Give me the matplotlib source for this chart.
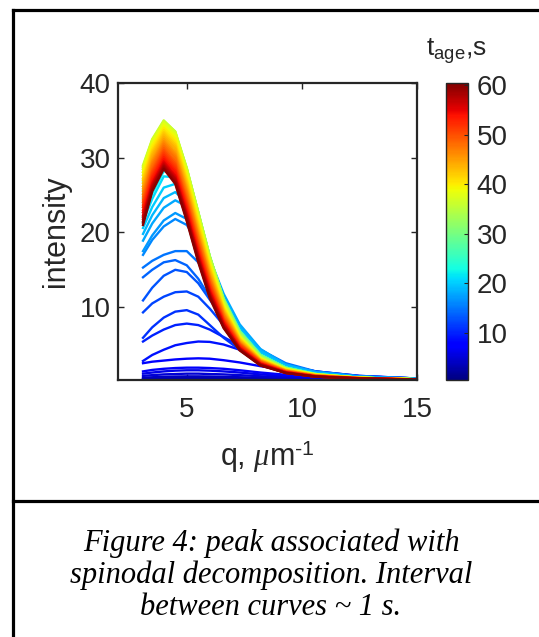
import matplotlib
matplotlib.use("Agg")
import matplotlib.pyplot as plt
from matplotlib.colors import Normalize
from matplotlib.cm import ScalarMappable
from matplotlib.lines import Line2D

# ---------------- data ----------------
q = [3.1, 3.5, 4.0, 4.5, 5.0, 5.5, 6.0, 6.6, 7.3, 8.2, 9.3, 10.6, 12.5, 15.0]
t_age = list(range(1, 61))
cbar_ticks = [10, 20, 30, 40, 50, 60]
y_ticks = [10, 20, 30, 40]
x_ticks = [5, 10, 15]

# t = 1 .. 21 s
early_curves = [
    [0.25, 0.26, 0.27, 0.28, 0.28, 0.28, 0.28, 0.27, 0.27, 0.26, 0.26, 0.25, 0.25, 0.25],
    [0.32, 0.34, 0.36, 0.38, 0.38, 0.38, 0.37, 0.36, 0.35, 0.33, 0.31, 0.29, 0.27, 0.26],
    [0.42, 0.46, 0.50, 0.52, 0.53, 0.53, 0.52, 0.50, 0.47, 0.42, 0.37, 0.33, 0.29, 0.27],
    [0.55, 0.62, 0.68, 0.72, 0.74, 0.74, 0.72, 0.68, 0.62, 0.54, 0.46, 0.39, 0.32, 0.28],
    [0.80, 0.90, 1.00, 1.05, 1.10, 1.10, 1.05, 1.00, 0.90, 0.75, 0.60, 0.48, 0.37, 0.30],
    [1.10, 1.25, 1.40, 1.50, 1.55, 1.55, 1.50, 1.40, 1.25, 1.00, 0.80, 0.60, 0.44, 0.32],
    [1.40, 1.60, 1.75, 1.85, 1.90, 1.90, 1.85, 1.75, 1.55, 1.25, 0.95, 0.70, 0.50, 0.35],
    [2.5, 2.7, 2.85, 3.0, 3.1, 3.15, 3.1, 2.9, 2.6, 2.1, 1.6, 1.1, 0.7, 0.4],
    [2.8, 3.6, 4.3, 4.9, 5.2, 5.4, 5.35, 5.0, 4.3, 3.2, 2.2, 1.4, 0.8, 0.45],
    [5.4, 6.2, 7.0, 7.6, 7.8, 7.6, 7.0, 6.0, 4.8, 3.4, 2.2, 1.4, 0.8, 0.45],
    [5.9, 7.3, 8.6, 9.4, 9.6, 9.0, 7.6, 5.9, 4.3, 2.9, 1.8, 1.1, 0.65, 0.4],
    [9.3, 10.5, 11.4, 12.0, 12.1, 11.4, 9.8, 7.6, 5.5, 3.6, 2.2, 1.3, 0.75, 0.45],
    [10.9, 12.6, 14.2, 15.0, 14.7, 13.2, 11.0, 8.4, 5.9, 3.8, 2.3, 1.35, 0.75, 0.45],
    [14.0, 15.0, 16.0, 16.3, 15.6, 13.8, 11.3, 8.5, 5.9, 3.7, 2.2, 1.3, 0.7, 0.4],
    [15.3, 16.2, 17.0, 17.5, 17.5, 16.0, 13.2, 9.9, 6.9, 4.3, 2.5, 1.4, 0.75, 0.45],
    [17.0, 19.0, 20.8, 21.8, 21.0, 18.6, 15.0, 11.0, 7.3, 4.3, 2.3, 1.3, 0.7, 0.4],
    [17.5, 19.6, 21.6, 22.6, 21.8, 19.2, 15.5, 11.2, 7.4, 4.3, 2.3, 1.3, 0.7, 0.4],
    [18.9, 21.2, 23.3, 24.3, 23.5, 20.6, 16.5, 11.8, 7.7, 4.4, 2.3, 1.3, 0.7, 0.4],
    [19.8, 22.3, 24.6, 25.4, 24.0, 20.6, 16.2, 11.4, 7.3, 4.1, 2.2, 1.2, 0.65, 0.38],
    [20.6, 23.4, 26.0, 26.5, 24.3, 20.3, 15.6, 10.9, 6.9, 3.8, 2.0, 1.1, 0.6, 0.35],
    [21.4, 24.5, 27.5, 27.4, 24.6, 20.3, 15.4, 10.6, 6.6, 3.6, 1.9, 1.05, 0.55, 0.32],
]

# t = 22 .. 36 s
mid_curves = [
    [22.1, 25.2, 28.2, 28.0, 25.1, 20.7, 15.6, 10.7, 6.7, 3.6, 1.9, 1.05, 0.55, 0.33],
    [22.7, 25.9, 28.9, 28.7, 25.6, 21.0, 15.9, 10.8, 6.7, 3.6, 1.9, 1.05, 0.55, 0.33],
    [23.4, 26.6, 29.7, 29.3, 26.0, 21.3, 16.1, 11.0, 6.8, 3.6, 1.9, 1.05, 0.55, 0.33],
    [24.0, 27.3, 30.3, 29.8, 26.4, 21.6, 16.2, 11.0, 6.8, 3.6, 1.9, 1.05, 0.55, 0.33],
    [24.6, 27.9, 30.9, 30.4, 26.8, 21.8, 16.4, 11.1, 6.8, 3.6, 1.9, 1.05, 0.55, 0.34],
    [25.2, 28.6, 31.5, 30.9, 27.2, 22.1, 16.5, 11.1, 6.8, 3.6, 1.9, 1.05, 0.55, 0.34],
    [25.7, 29.1, 32.1, 31.3, 27.5, 22.2, 16.6, 11.1, 6.8, 3.6, 1.9, 1.0, 0.55, 0.34],
    [26.2, 29.7, 32.6, 31.8, 27.7, 22.4, 16.7, 11.1, 6.7, 3.6, 1.9, 1.0, 0.55, 0.34],
    [26.8, 30.3, 33.1, 32.2, 28.0, 22.5, 16.8, 11.1, 6.7, 3.5, 1.8, 1.0, 0.55, 0.34],
    [27.2, 30.7, 33.5, 32.5, 28.2, 22.6, 16.8, 11.1, 6.6, 3.5, 1.8, 1.0, 0.55, 0.34],
    [27.7, 31.2, 34.0, 32.9, 28.4, 22.7, 16.8, 11.0, 6.6, 3.4, 1.8, 1.0, 0.55, 0.35],
    [28.1, 31.6, 34.3, 33.1, 28.5, 22.7, 16.8, 10.9, 6.5, 3.4, 1.8, 1.0, 0.55, 0.35],
    [28.5, 32.0, 34.6, 33.3, 28.6, 22.7, 16.7, 10.9, 6.4, 3.3, 1.8, 1.0, 0.55, 0.35],
    [28.8, 32.3, 34.9, 33.5, 28.6, 22.6, 16.6, 10.8, 6.3, 3.3, 1.7, 1.0, 0.55, 0.35],
    [29.0, 32.5, 35.0, 33.5, 28.5, 22.5, 16.5, 10.6, 6.2, 3.2, 1.7, 1.0, 0.55, 0.35],
]

# t = 37 .. 60 s
late_curves = [
    [28.8, 32.4, 34.8, 33.4, 28.3, 22.3, 16.3, 10.5, 6.1, 3.2, 1.7, 1.0, 0.55, 0.34],
    [28.5, 32.1, 34.6, 33.1, 28.1, 22.1, 16.1, 10.4, 6.1, 3.1, 1.7, 0.95, 0.54, 0.34],
    [28.1, 31.8, 34.3, 32.8, 27.7, 21.8, 15.9, 10.2, 6.0, 3.1, 1.7, 0.95, 0.54, 0.34],
    [27.7, 31.5, 34.0, 32.5, 27.4, 21.4, 15.6, 10.0, 5.9, 3.1, 1.6, 0.95, 0.53, 0.33],
    [27.3, 31.1, 33.7, 32.1, 27.1, 21.2, 15.4, 9.9, 5.8, 3.0, 1.6, 0.9, 0.53, 0.33],
    [27.0, 30.8, 33.4, 31.8, 26.8, 20.8, 15.1, 9.7, 5.7, 3.0, 1.6, 0.9, 0.52, 0.33],
    [26.6, 30.5, 33.1, 31.5, 26.4, 20.5, 14.9, 9.6, 5.6, 2.9, 1.5, 0.9, 0.52, 0.33],
    [26.2, 30.2, 32.8, 31.2, 26.1, 20.2, 14.6, 9.4, 5.5, 2.9, 1.5, 0.85, 0.51, 0.32],
    [25.9, 29.8, 32.5, 30.8, 25.8, 19.9, 14.4, 9.3, 5.4, 2.8, 1.5, 0.85, 0.51, 0.32],
    [25.5, 29.5, 32.2, 30.5, 25.5, 19.6, 14.1, 9.1, 5.3, 2.8, 1.5, 0.85, 0.5, 0.32],
    [25.1, 29.2, 31.9, 30.2, 25.2, 19.4, 13.9, 9.0, 5.2, 2.8, 1.4, 0.8, 0.5, 0.32],
    [24.8, 28.9, 31.6, 29.9, 24.8, 19.1, 13.7, 8.8, 5.1, 2.7, 1.4, 0.8, 0.5, 0.31],
    [24.4, 28.5, 31.3, 29.5, 24.5, 18.7, 13.4, 8.6, 5.1, 2.7, 1.4, 0.8, 0.49, 0.31],
    [24.1, 28.2, 31.0, 29.2, 24.2, 18.5, 13.2, 8.5, 5.0, 2.6, 1.4, 0.8, 0.49, 0.31],
    [23.7, 27.9, 30.7, 28.9, 23.9, 18.2, 13.0, 8.3, 4.9, 2.6, 1.3, 0.75, 0.48, 0.31],
    [23.4, 27.6, 30.4, 28.6, 23.6, 17.9, 12.7, 8.2, 4.8, 2.5, 1.3, 0.75, 0.48, 0.31],
    [23.0, 27.3, 30.1, 28.3, 23.3, 17.6, 12.5, 8.1, 4.7, 2.5, 1.3, 0.75, 0.47, 0.3],
    [22.7, 26.9, 29.8, 28.0, 23.0, 17.3, 12.3, 7.9, 4.6, 2.4, 1.3, 0.75, 0.47, 0.3],
    [22.3, 26.6, 29.5, 27.6, 22.6, 17.0, 12.1, 7.8, 4.5, 2.4, 1.3, 0.7, 0.46, 0.3],
    [22.1, 26.4, 29.3, 27.4, 22.4, 16.8, 11.9, 7.7, 4.5, 2.4, 1.2, 0.7, 0.46, 0.3],
    [21.8, 26.2, 29.1, 27.2, 22.2, 16.6, 11.7, 7.5, 4.4, 2.3, 1.2, 0.7, 0.45, 0.3],
    [21.5, 26.0, 28.9, 27.0, 22.0, 16.4, 11.6, 7.4, 4.3, 2.3, 1.2, 0.7, 0.45, 0.3],
    [21.3, 25.7, 28.7, 26.7, 21.7, 16.2, 11.4, 7.3, 4.3, 2.2, 1.2, 0.7, 0.45, 0.3],
    [21.0, 25.5, 28.5, 26.5, 21.5, 16.0, 11.2, 7.2, 4.2, 2.2, 1.2, 0.7, 0.45, 0.3],
]

caption_lines = [
    "Figure 4: peak associated with",
    "spinodal decomposition. Interval",
    "between curves ~ 1 s.",
]

# ---------------- styling ----------------
plt.rcParams["font.family"] = ["Liberation Sans", "DejaVu Sans"]
plt.rcParams["mathtext.fontset"] = "custom"
plt.rcParams["mathtext.rm"] = "Liberation Sans"
plt.rcParams["mathtext.it"] = "Liberation Serif:italic"
plt.rcParams["mathtext.bf"] = "Liberation Sans:bold"

W, H = 539, 637
DPI = 100
fig = plt.figure(figsize=(W / DPI, H / DPI), dpi=DPI)
fig.patch.set_facecolor("white")

def fx(px):
    return px / W

def fy(py):
    return 1 - py / H

ax_l, ax_r, ax_t, ax_b = 117.7, 417.0, 83.0, 380.0
ax = fig.add_axes([fx(ax_l), fy(ax_b), fx(ax_r - ax_l), (ax_b - ax_t) / H])

cmap = plt.get_cmap("jet")
norm = Normalize(vmin=0.5, vmax=60.5)

all_curves = early_curves + mid_curves + late_curves
for t, vals in zip(t_age, all_curves):
    ax.plot(q, vals, color=cmap(norm(t)), lw=1.7, solid_joinstyle="round")

ax.set_xlim(2, 15)
ax.set_ylim(0.25, 40)
ax.set_xticks(x_ticks)
ax.set_yticks(y_ticks)

axis_col = "#262626"
for s in ax.spines.values():
    s.set_color(axis_col)
    s.set_linewidth(1.6)
ax.tick_params(axis="both", which="both", direction="in", length=4, width=1.0,
               color=axis_col, labelcolor=axis_col, labelsize=20,
               top=True, right=True)
ax.tick_params(axis="x", pad=12)
ax.tick_params(axis="y", pad=5)

ax.set_ylabel("intensity", fontsize=22, color=axis_col, labelpad=6)
ax.set_xlabel(r"q, $\mu$m$^{\text{-1}}$", fontsize=22, color=axis_col, labelpad=11)

# colorbar
cb_l, cb_r = 445.7, 468.3
cax = fig.add_axes([fx(cb_l), fy(ax_b), fx(cb_r - cb_l), (ax_b - ax_t) / H])
sm = ScalarMappable(norm=norm, cmap=cmap)
cb = fig.colorbar(sm, cax=cax, ticks=cbar_ticks)
cb.outline.set_edgecolor(axis_col)
cb.outline.set_linewidth(1.0)
cax.tick_params(direction="in", length=3, width=0.8, color=axis_col,
                labelcolor=axis_col, labelsize=20, pad=6)
fig.text(fx(456), fy(56), r"$\mathregular{t_{age}}$,s", fontsize=19,
         color=axis_col, ha="center", va="baseline")

# outer frame and divider
lw_frame = 2.3
fig.add_artist(Line2D([fx(13), fx(13)], [fy(9.5), fy(H + 5)], color="black", lw=lw_frame))
fig.add_artist(Line2D([fx(13), fx(W + 5)], [fy(9.5), fy(9.5)], color="black", lw=lw_frame))
fig.add_artist(Line2D([fx(13), fx(W + 5)], [fy(501), fy(501)], color="black", lw=lw_frame))

# caption
for i, line in enumerate(caption_lines):
    fig.text(fx(271), fy(551 + 32 * i), line, family="Liberation Serif",
             style="italic", fontsize=22, color="black", ha="center", va="baseline")

fig.savefig("out.png", dpi=DPI, facecolor="white")
